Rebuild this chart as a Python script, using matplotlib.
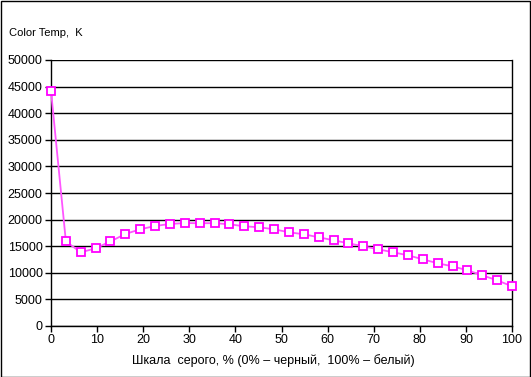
import numpy as np
import matplotlib.pyplot as plt
from matplotlib.patches import Rectangle

plt.rcParams['font.family'] = ['Liberation Sans', 'DejaVu Sans']

# grey scale steps, 32 points from 0 to 100 %
gray_pct = np.linspace(0, 100, 32)
color_temp = [44200, 15900, 13850, 14600, 15900, 17300, 18180, 18800,
              19180, 19350, 19320, 19330, 19120, 18740, 18560, 18180,
              17620, 17240, 16680, 16110, 15550, 14980, 14420, 13860,
              13290, 12540, 11790, 11220, 10470, 9530, 8590, 7460]

fig = plt.figure(figsize=(5.31, 3.77), dpi=100)
ax = fig.add_axes([51/531, 1 - 326/377, 461/531, 266/377])

ax.plot(gray_pct, color_temp, color='#ff55ff', linewidth=1.3, zorder=3,
        marker='s', markersize=6, markerfacecolor='white',
        markeredgecolor='#ff00ff', markeredgewidth=1.3, clip_on=False)

ax.set_xlim(0, 100)
ax.set_ylim(0, 50000)
ax.set_xticks(range(0, 101, 10))
ax.set_yticks(range(0, 50001, 5000))
ax.yaxis.grid(True, color='black', linewidth=1)
ax.set_axisbelow(True)
for s in ax.spines.values():
    s.set_color('black')
    s.set_linewidth(1)
ax.spines['top'].set_visible(False)
ax.tick_params(axis='both', direction='out', length=4, width=1,
               labelsize=9, colors='black', pad=2)

ax.set_xlabel('Шкала  серого, % (0% – черный,  100% – белый)', fontsize=9)
ax.xaxis.set_label_coords(0.483, -0.105)
fig.text(9/531, 1 - 33/377, 'Color Temp,  K', fontsize=8, va='center', ha='left')

fig.patches.append(Rectangle((0.5/531, 0.5/377), 1 - 1.5/531, 1 - 1.5/377,
                             transform=fig.transFigure, fill=False,
                             edgecolor='black', linewidth=1))

fig.savefig('out.png', dpi=100)
